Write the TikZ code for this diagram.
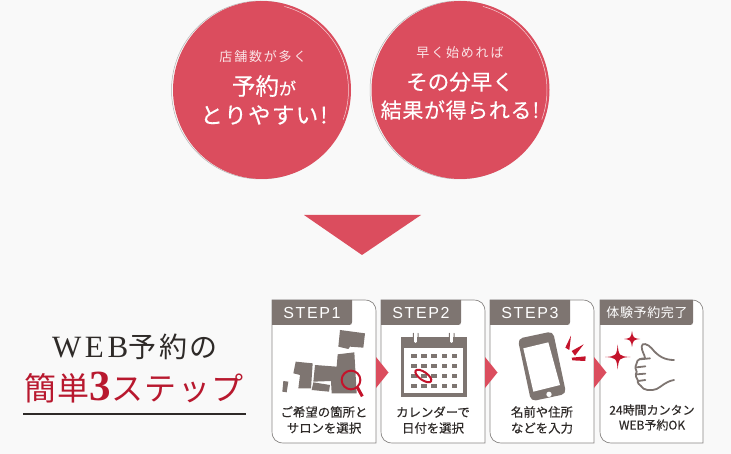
\documentclass[tikz,border=0pt]{standalone}
\usepackage{fontspec}
\setmainfont{Noto Sans CJK JP}
\newfontfamily\latinsans{Liberation Sans}
\newfontfamily\latinserif{Liberation Serif}
\definecolor{bgc}{HTML}{F9F9F9}
\definecolor{rosec}{HTML}{DB4D5E}
\definecolor{graybox}{HTML}{7E7571}
\definecolor{inkc}{HTML}{2E2A28}
\definecolor{redc}{HTML}{C4132B}
\definecolor{titlered}{HTML}{B8182E}
\definecolor{edgec}{HTML}{8A8785}
\newcommand{\fs}[1]{\fontsize{#1}{#1}\selectfont}
\newcommand{\track}[1]{\addfontfeature{LetterSpace=#1}}
\newcommand{\heavy}{\addfontfeature{FakeBold=0.35}}
\tikzset{
  x=1pt,y=-1pt,
  bubble/.style={circle,fill=rosec,minimum size=178pt,inner sep=0pt},
  bubbletext/.style={text=white,inner sep=0pt,anchor=center},
  card/.style={draw=edgec,line width=0.7pt,fill=white},
  tag/.style={fill=graybox},
  tagtext/.style={text=white,inner sep=0pt,anchor=center},
  captext/.style={text=inkc,inner sep=0pt,anchor=center},
  pointer/.style={fill=rosec},
  icon/.style={fill=graybox},
}
\newcommand{\cardat}[3]{% left, right, tag right
  \draw[card] (#1,300) -- (#2-12,300) .. controls (#2-4,300) and (#2,304) .. (#2,312) -- (#2,443)
    -- (#1+12,443) .. controls (#1+4,443) and (#1,439) .. (#1,431) -- cycle;
  \fill[tag] (#1,300) -- (#3,300) -- (#3,322) .. controls (#3,324) and (#3-1,325) .. (#3-3,325) -- (#1,325) -- cycle;
}
\begin{document}
\begin{tikzpicture}
\useasboundingbox (0,0) rectangle (731,454);
\fill[bgc] (0,0) rectangle (731,454);

% circles
\draw[color=black!30,line width=0.5pt] (260.5,90) circle (89);
\node[bubble] (c1) at (262,90) {};
\draw[color=white!75!rosec,line width=0.5pt] (262,90) ++(20:86.5) arc (20:-75:86.5);
\draw[color=black!30,line width=0.5pt] (459,90) circle (89);
\node[bubble] (c2) at (460.5,90) {};
\draw[color=white!75!rosec,line width=0.5pt] (460.5,90) ++(20:86.5) arc (20:-75:86.5);

\node[bubbletext,text=white!85!rosec] (a1) at (263,57) {\fs{13}\track{14}店舗数が多く};
\node[bubbletext] (a2) at (264,86) {\fs{23.5}\heavy 予約\fs{17}\heavy が};
\node[bubbletext] (a3) at (264,115) {\fs{22.5}\heavy\track{6}とりやすい\hspace{2pt}!};
\node[bubbletext,text=white!85!rosec] (b1) at (460,53) {\fs{13}\track{14}早く始めれば};
\node[bubbletext] (b2) at (460,82) {\fs{21.5}\heavy その分早く};
\node[bubbletext] (b3) at (460,110) {\fs{21}\heavy\track{3}結果が得られる\hspace{1pt}!};

% big triangle
\fill[pointer] (304,215) -- (421,215) -- (362,255) -- cycle;

% title
\node[inner sep=0pt,text=inkc] (t1) at (135,347) {\fs{31}{\latinserif\addfontfeature{LetterSpace=12}WEB}\fs{28}\track{10}予約の};
\node[inner sep=0pt,text=titlered] (t2) at (134,388) {\fs{32}\track{5}簡単{\fs{43}\bfseries\latinserif 3}ステップ};
\draw[color=inkc,line width=1.6pt] (23,414) -- (246,414);

% cards
\cardat{272}{376}{352}
\cardat{381}{485}{461}
\cardat{490}{594}{570}
\cardat{600}{703}{693}

\fill[pointer] (376,357) -- (388.5,372.5) -- (376,388) -- cycle;
\fill[pointer] (485,357) -- (497.5,372.5) -- (485,388) -- cycle;
\fill[pointer] (594,357) -- (606.5,372.5) -- (594,388) -- cycle;

\node[tagtext] (s1) at (312,313) {\latinsans\fs{16}\track{10}STEP1};
\node[tagtext] (s2) at (421,313) {\latinsans\fs{16}\track{10}STEP2};
\node[tagtext] (s3) at (530,313) {\latinsans\fs{16}\track{10}STEP3};
\node[tagtext] (s4) at (647,312.5) {\fs{13}\track{5}体験予約完了};

\node[captext] (p1a) at (324,412) {\fs{12.4}\heavy ご希望の箇所と};
\node[captext] (p1b) at (324,428) {\fs{12.4}\heavy サロンを選択};
\node[captext] (p2a) at (433,412) {\fs{12.4}\heavy カレンダーで};
\node[captext] (p2b) at (433,428) {\fs{12.4}\heavy 日付を選択};
\node[captext] (p3a) at (542,412) {\fs{12.4}\heavy 名前や住所};
\node[captext] (p3b) at (542,428) {\fs{12.4}\heavy などを入力};
\node[captext] (p4a) at (652,410) {\fs{12}\heavy 24時間カンタン};
\node[captext] (p4b) at (652,425) {\fs{12}\heavy WEB予約OK};

% map icon
\begin{scope}[shift={(265,295)},scale=1/3]
  \fill[icon] (225,105) -- (300,115) -- (295,158) -- (255,155) -- (250,162) -- (220,155) -- cycle;
  \fill[icon] (150,210) -- (215,215) -- (218,178) -- (268,172) -- (275,295) -- (200,295) -- (198,258) -- (145,260) -- cycle;
  \fill[icon] (92,200) -- (143,205) -- (138,280) -- (100,280) -- (105,240) -- (85,235) -- cycle;
  \fill[icon] (145,262) -- (195,270) -- (192,290) -- (140,285) -- cycle;
  \fill[icon] (55,258) -- (70,260) -- (65,292) -- (52,290) -- cycle;
  \draw[color=redc,line width=2pt] (258,255) circle (28);
  \draw[color=redc,line width=3pt] (277,277) -- (292,304);
\end{scope}

% calendar icon
\begin{scope}[shift={(265,295)},scale=1/3]
  \fill[icon] (407,127) rectangle (605,305);
  \fill[white] (417,158) rectangle (595,293);
  \draw[color=white,line width=2.6pt,line cap=round] (452,112) -- (452,140) (560,112) -- (560,140);
  \draw[color=graybox,line width=1pt,line cap=round] (445,115) -- (445,140) .. controls (445,150) and (459,150) .. (459,140) -- (459,115);
  \draw[color=graybox,line width=1pt,line cap=round] (553,115) -- (553,140) .. controls (553,150) and (567,150) .. (567,140) -- (567,115);
  \foreach \yy in {182,212,243,273}
    \foreach \xx in {447,477,507,538,568}
      \fill[icon] (\xx-8,\yy-6) rectangle (\xx+8,\yy+6);
  \draw[color=redc,line width=2pt,rotate around={-35:(475,243)}] (475,243) ellipse (28 and 12);
\end{scope}

% phone icon
\begin{scope}[shift={(485,295)},scale=1/3]
  \node[icon,rounded corners=5pt,minimum width=36pt,minimum height=64pt,inner sep=0pt,rotate=12] (phone) at (171,214) {};
  \fill[white] (115,160) -- (190,142) -- (225,270) -- (145,290) -- cycle;
  \fill[white] (192,298) circle (8);
  \fill[redc] (258,122) -- (241,158) -- (253,165) -- cycle;
  \fill[redc] (296,148) -- (260,168) -- (270,182) -- cycle;
  \fill[redc] (302,184) -- (260,188) -- (262,196) -- (301,198) -- cycle;
\end{scope}

% thumb icon
\begin{scope}[shift={(600,325)},scale=1/3]
  \newcommand{\sparkle}[3]{\fill[redc] (#1-#3,#2) .. controls (#1-5,#2-2) and (#1-3,#2-4) .. (#1,#2-#3) .. controls (#1+3,#2-4) and (#1+5,#2-2) .. (#1+#3,#2) .. controls (#1+5,#2+2) and (#1+3,#2+4) .. (#1,#2+#3) .. controls (#1-3,#2+4) and (#1-5,#2+2) .. (#1-#3,#2) -- cycle;}
  \sparkle{53}{96}{38}
  \sparkle{96}{42}{24}
  \draw[color=graybox,line width=1.8pt,line cap=round,line join=round]
    (222,105) .. controls (195,105) and (175,95) .. (155,70) .. controls (145,58) and (125,50) .. (125,65)
    .. controls (125,80) and (135,90) .. (135,100) .. controls (125,100) and (110,102) .. (110,115)
    .. controls (105,125) and (105,135) .. (110,140) .. controls (105,150) and (108,160) .. (113,165)
    .. controls (112,175) and (118,180) .. (122,182) .. controls (130,198) and (155,198) .. (170,192)
    .. controls (185,185) and (195,170) .. (222,165);
  \draw[color=graybox,line width=1.8pt,line cap=round]
    (120,103) -- (150,100) (110,127) -- (136,124) (110,148) -- (136,146) (115,168) -- (136,165);
\end{scope}
\end{tikzpicture}
\end{document}
